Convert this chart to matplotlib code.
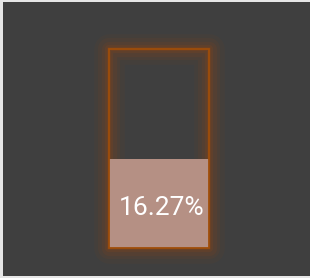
import matplotlib.pyplot as plt
from matplotlib.patches import Rectangle

# gauge data
value = 16.27
max_value = 36.4
label = '16.27%'

bg_color = '#3f3f3f'
fill_color = '#b59084'
edge_color = '#a04e0a'

fig = plt.figure(figsize=(3.1, 2.78), dpi=100)
fig.patch.set_facecolor('#e6e6e6')

# dark panel
bg = fig.add_axes([3 / 310, 2 / 278, 307 / 310, 274 / 278])
bg.set_facecolor(bg_color)
bg.set_xticks([])
bg.set_yticks([])
for s in bg.spines.values():
    s.set_visible(False)

# the gauge itself
ax = fig.add_axes([109 / 310, 30 / 278, 100 / 310, 199 / 278])
ax.set_xlim(0, 1)
ax.set_ylim(0, max_value)
ax.patch.set_alpha(0)
ax.set_xticks([])
ax.set_yticks([])
for s in ax.spines.values():
    s.set_visible(False)

# glow around the outline
for lw, a in [(22, 0.06), (16, 0.08), (11, 0.11), (6, 0.15), (3, 0.2)]:
    ax.add_patch(Rectangle((0, 0), 1, max_value, fill=False, edgecolor='#a0480a',
                           lw=lw, alpha=a, clip_on=False, joinstyle='round'))

ax.bar(0.5, value, width=1, color=fill_color, zorder=3)

ax.add_patch(Rectangle((0, 0), 1, max_value, fill=False, edgecolor=edge_color,
                       lw=1.3, clip_on=False, zorder=4))

ax.text(0.53, value / 2 - 0.75, label, color='white', fontsize=19,
        family=['Roboto', 'DejaVu Sans'], ha='center', va='center', zorder=5)

fig.savefig('out.png', dpi=100, facecolor=fig.get_facecolor())
